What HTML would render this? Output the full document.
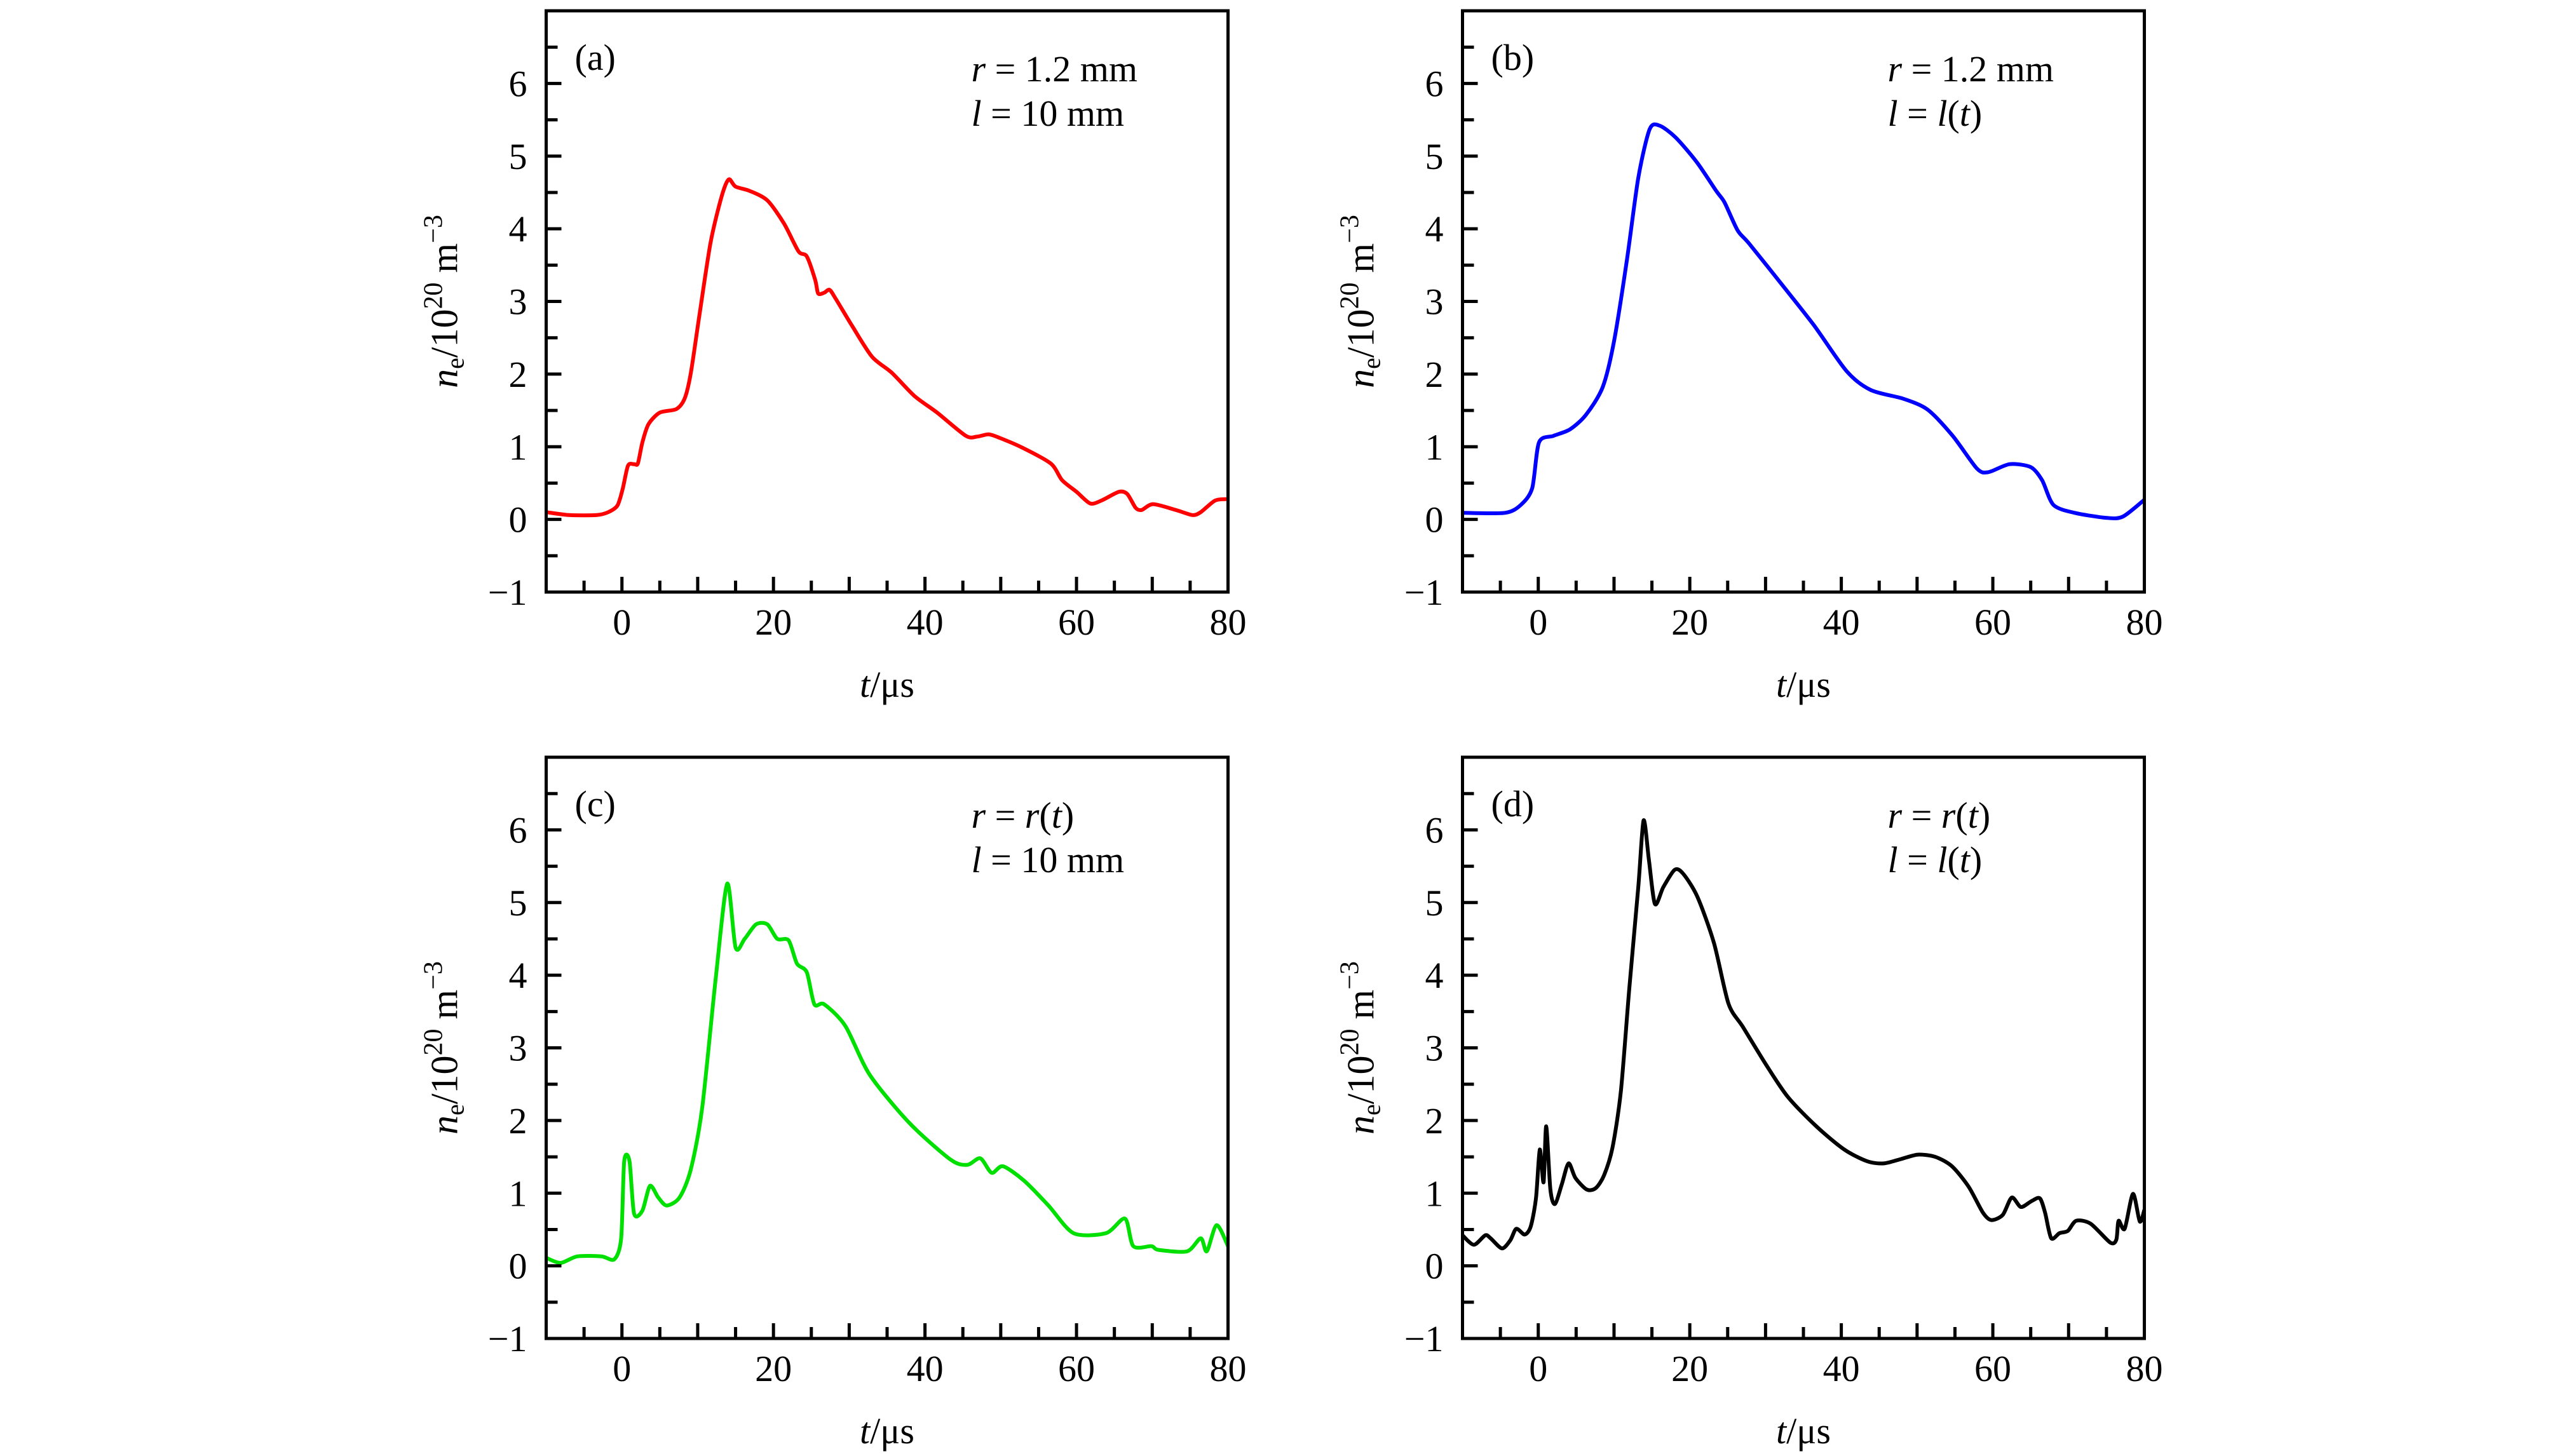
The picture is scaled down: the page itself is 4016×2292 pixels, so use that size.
<!DOCTYPE html>
<html><head><meta charset="utf-8"><style>
html,body{margin:0;padding:0;background:#fff;}
svg{display:block;}
text{font-family:"Liberation Serif",serif;fill:#000;}
</style></head><body>
<svg id="fig" width="4016" height="2292" viewBox="0 0 4016 2292" xmlns="http://www.w3.org/2000/svg"></svg>
<script>
// shared axis data
const xTicks = [0, 20, 40, 60, 80];
const yTicks = [-1, 0, 1, 2, 3, 4, 5, 6];
// panel (a)
const tA = [-10,-7,-3.3,-1.8,-0.6,0.1,0.8,1.6,2.1,2.7,3.5,5,7.2,8.3,9.1,10.2,11.7,13.2,14.1,15,16.9,19.2,21.4,23.3,24.4,25.5,25.9,26.7,27.4,28.2,30.4,33,35.6,38.6,41.6,45.4,46.9,48.4,49.9,52.8,56.6,58.1,60,61.8,63.3,65.6,66.7,67.8,68.6,70.1,73.1,75.3,76.4,78.3,80];
const nA = [0.1,0.06,0.06,0.1,0.19,0.42,0.74,0.76,0.77,1.06,1.31,1.47,1.52,1.67,2.02,2.79,3.81,4.46,4.68,4.58,4.52,4.39,4.07,3.69,3.62,3.3,3.11,3.12,3.16,3.04,2.66,2.24,2.02,1.7,1.47,1.15,1.14,1.17,1.12,0.99,0.77,0.54,0.38,0.22,0.26,0.38,0.35,0.16,0.13,0.21,0.13,0.06,0.1,0.26,0.28];
// panel (b)
const tB = [-10,-4.4,-2.3,-0.8,0.1,2,4.2,6.3,8.5,10,11.7,13.2,14.7,16,18.1,20.9,23.5,24.6,26.3,27.8,32.1,36.4,40.7,43.9,48.2,51.4,54.7,57.9,59.4,62.2,65,66.5,68,70.8,75.1,77.2,80];
const nB = [0.09,0.09,0.2,0.43,1.06,1.15,1.24,1.44,1.82,2.45,3.57,4.7,5.37,5.42,5.26,4.92,4.52,4.36,3.98,3.8,3.24,2.67,2.04,1.78,1.66,1.51,1.15,0.7,0.65,0.76,0.72,0.54,0.2,0.09,0.02,0.04,0.27];
// panel (c)
const tC = [-10,-8.1,-5.9,-2.7,-1,-0.1,0.3,1,1.6,2.7,3.7,4.8,5.9,7.6,9.1,10.6,12.4,13.9,15,16.2,17.7,19.2,20.5,22,23.1,24.4,25.4,26.7,29.5,32.7,38,43.4,45.6,47.3,48.8,50.3,53.1,56.3,59.6,63.9,66.4,67.5,69.9,70.8,74.6,76.4,77.2,78.5,80];
const nC = [0.11,0.04,0.13,0.13,0.09,0.38,1.44,1.44,0.72,0.76,1.1,0.94,0.83,0.94,1.33,2.18,3.98,5.26,4.38,4.5,4.7,4.7,4.5,4.48,4.16,4.04,3.6,3.6,3.3,2.63,1.96,1.46,1.39,1.48,1.28,1.37,1.17,0.83,0.45,0.45,0.65,0.27,0.27,0.22,0.2,0.38,0.2,0.56,0.27];
// panel (d)
const tD = [-10,-8.5,-7,-6.3,-4.8,-3.7,-2.9,-1.8,-1,-0.3,0.2,0.7,1.05,1.6,2.2,3.1,4,4.9,6.4,7.6,8.7,9.8,10.9,12,13.2,13.9,14.6,15.4,16.5,18,19.1,21,23.2,25.1,27,30,32.9,36.7,40.4,43.4,45.6,47.9,50.1,52.4,54.6,56.8,58.7,59.8,61.3,62.5,63.7,65.1,66.2,66.9,67.7,68.8,69.9,71,72.9,75.5,76.3,76.6,77.4,78.5,79.4,80];
const nD = [0.42,0.29,0.42,0.38,0.24,0.35,0.51,0.43,0.54,0.93,1.6,1.15,1.92,1.05,0.85,1.12,1.41,1.21,1.05,1.07,1.25,1.63,2.4,3.8,5.21,6.13,5.59,4.98,5.21,5.45,5.4,5.08,4.44,3.61,3.29,2.78,2.33,1.92,1.6,1.44,1.41,1.47,1.53,1.5,1.37,1.09,0.73,0.63,0.7,0.94,0.81,0.89,0.93,0.73,0.38,0.45,0.48,0.62,0.58,0.32,0.36,0.62,0.51,0.99,0.61,0.77];

const NS = 'http://www.w3.org/2000/svg';
const svg = document.getElementById('fig');
const W = 1073, H = 915;
function mk(tag, attrs, parent){ const e = document.createElementNS(NS, tag); for (const k in attrs) e.setAttribute(k, attrs[k]); parent.appendChild(e); return e; }

function smoothPath(P){
  let d = 'M' + P[0][0].toFixed(1) + ',' + P[0][1].toFixed(1);
  const k = 0.3;
  for (let i = 0; i < P.length - 1; i++) {
    const p0 = P[Math.max(0, i-1)], p1 = P[i], p2 = P[i+1], p3 = P[Math.min(P.length-1, i+2)];
    const c1x = p1[0] + (p2[0]-p0[0]) * k / 2 * 0.9, c1y = p1[1] + (p2[1]-p0[1]) * k / 2 * 0.9;
    const c2x = p2[0] - (p3[0]-p1[0]) * k / 2 * 0.9, c2y = p2[1] - (p3[1]-p1[1]) * k / 2 * 0.9;
    d += 'C' + c1x.toFixed(1) + ',' + c1y.toFixed(1) + ' ' + c2x.toFixed(1) + ',' + c2y.toFixed(1) + ' ' + p2[0].toFixed(1) + ',' + p2[1].toFixed(1);
  }
  return d;
}

const panels = [
  {id:'a', x0:859.5, y0:17, t:tA, n:nA, color:'#ff0000', l1:['r','= 1.2 mm'], l2:['l','= 10 mm']},
  {id:'b', x0:2301.5, y0:17, t:tB, n:nB, color:'#0000ff', l1:['r','= 1.2 mm'], l2:['l','= l(t)']},
  {id:'c', x0:859.5, y0:1192, t:tC, n:nC, color:'#00e000', l1:['r','= r(t)'], l2:['l','= 10 mm']},
  {id:'d', x0:2301.5, y0:1192, t:tD, n:nD, color:'#000000', l1:['r','= r(t)'], l2:['l','= l(t)']}
];

panels.forEach(p => {
  const g = mk('g', {}, svg);
  
  
  const xs = v => p.x0 + (v + 10) / 90 * W;
  const ys = v => p.y0 + H - (v + 1) / 8 * H;
  const pts = p.t.map((t, i) => [xs(t), ys(p.n[i])]);
  const path = mk('path', {d:smoothPath(pts), fill:'none', stroke:p.color, 'stroke-width':6, 'stroke-linejoin':'round'}, g);
  
  
  for (let v = -10; v <= 80; v += 5) {
    const len = (v % 10 === 0) ? 24 : 18;
    const tk = mk('line', {x1:xs(v), x2:xs(v), y1:p.y0+H, y2:p.y0+H-len, stroke:'#000', 'stroke-width':5}, g);
    
    
  }
  for (let v = -1; v <= 7; v += 0.5) {
    const len = (Number.isInteger(v)) ? 24 : 18;
    const tk = mk('line', {x1:p.x0, x2:p.x0+len, y1:ys(v), y2:ys(v), stroke:'#000', 'stroke-width':5}, g);
    
    
  }
  xTicks.forEach(v => {
    const t = mk('text', {x:xs(v), y:p.y0+H+67, 'font-size':58, 'text-anchor':'middle'}, g);
    t.textContent = String(v);
    
    
  });
  yTicks.forEach(v => {
    const t = mk('text', {x:p.x0-30, y:ys(v)+20, 'font-size':58, 'text-anchor':'end'}, g);
    t.textContent = v < 0 ? '\u2212' + Math.abs(v) : String(v);
    
    
  });
  const fr = mk('rect', {x:p.x0, y:p.y0, width:W, height:H, fill:'none', stroke:'#000', 'stroke-width':5}, g);
  
  
  const xt = mk('text', {x:p.x0+W/2, y:p.y0+H+165, 'font-size':58, 'text-anchor':'middle'}, g);
  xt.innerHTML = '<tspan font-style="italic">t</tspan>/\u03bcs';
  
  
  const cx = p.x0 - 158, cy = p.y0 + H/2;
  const yt = mk('text', {x:cx, y:cy+18, 'font-size':60, 'text-anchor':'middle', transform:'rotate(-90 '+cx+' '+cy+')'}, g);
  yt.innerHTML = '<tspan font-style="italic">n</tspan><tspan font-size="40" dy="10">e</tspan><tspan dy="-10">/10</tspan><tspan font-size="42" dy="-24">20</tspan><tspan dy="24"> m</tspan><tspan font-size="42" dy="-24">\u22123</tspan>';
  
  
  const pl = mk('text', {x:p.x0+45, y:p.y0+93, 'font-size':58}, g);
  pl.textContent = '(' + p.id + ')';
  
  
  const a1 = mk('text', {x:p.x0+669, y:p.y0+111, 'font-size':58}, g);
  a1.innerHTML = '<tspan font-style="italic">' + p.l1[0] + '</tspan> ' + p.l1[1].replace('r(t)', '<tspan font-style="italic">r</tspan>(<tspan font-style="italic">t</tspan>)');
  
  
  const a2 = mk('text', {x:p.x0+669, y:p.y0+181, 'font-size':58}, g);
  a2.innerHTML = '<tspan font-style="italic">' + p.l2[0] + '</tspan> ' + p.l2[1].replace('l(t)', '<tspan font-style="italic">l</tspan>(<tspan font-style="italic">t</tspan>)');
  
  
});
</script>
</body></html>
